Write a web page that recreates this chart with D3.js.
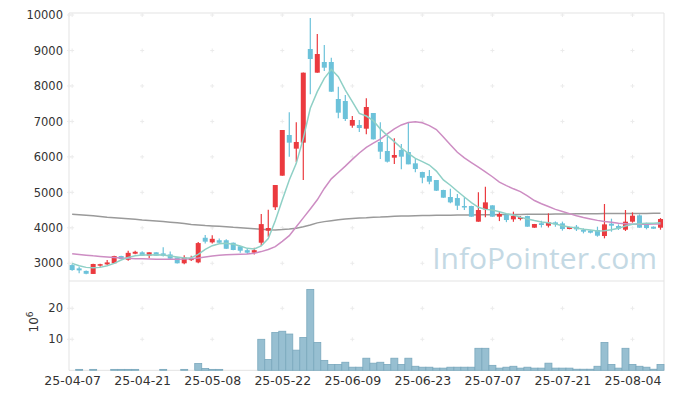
<!DOCTYPE html>
<html>
<head>
<meta charset="utf-8">
<script src="https://cdn.jsdelivr.net/npm/d3@7"></script>
<style>
  body { margin: 0; background: #fff; }
  svg { display: block; font-family: 'DejaVu Sans', sans-serif; }
</style>
</head>
<body>
<svg id="chart" width="673" height="399"></svg>
<script>
/**
 * Data (trading days, KRW, volume in millions).
 */
const dates = [
    '25-04-07', '25-04-08', '25-04-09', '25-04-10', '25-04-11', '25-04-14', '25-04-15', '25-04-16', '25-04-17', '25-04-18',
    '25-04-21', '25-04-22', '25-04-23', '25-04-24', '25-04-25', '25-04-28', '25-04-29', '25-04-30', '25-05-02', '25-05-07',
    '25-05-08', '25-05-09', '25-05-12', '25-05-13', '25-05-14', '25-05-15', '25-05-16', '25-05-19', '25-05-20', '25-05-21',
    '25-05-22', '25-05-23', '25-05-26', '25-05-27', '25-05-28', '25-05-29', '25-05-30', '25-06-02', '25-06-04', '25-06-05',
    '25-06-09', '25-06-10', '25-06-11', '25-06-12', '25-06-13', '25-06-16', '25-06-17', '25-06-18', '25-06-19', '25-06-20',
    '25-06-23', '25-06-24', '25-06-25', '25-06-26', '25-06-27', '25-06-30', '25-07-01', '25-07-02', '25-07-03', '25-07-04',
    '25-07-07', '25-07-08', '25-07-09', '25-07-10', '25-07-11', '25-07-14', '25-07-15', '25-07-16', '25-07-17', '25-07-18',
    '25-07-21', '25-07-22', '25-07-23', '25-07-24', '25-07-25', '25-07-28', '25-07-29', '25-07-30', '25-07-31', '25-08-01',
    '25-08-04', '25-08-05', '25-08-06', '25-08-07', '25-08-08'
];

const open = [
    2950, 2857, 2785, 2700, 2935, 2970, 3000, 3205, 3100, 3270,
    3310, 3215, 3310, 3280, 3250, 3165, 3000, 3090, 3025, 3720,
    3590, 3650, 3650, 3580, 3480, 3370, 3300, 3580, 3920, 4580,
    5470, 6617, 6232, 6401, 9041, 8374, 8675, 8675, 7632, 7575,
    6880, 6899, 6795, 7237, 6420, 6166, 5978, 6194, 6137, 5818,
    5573, 5461, 5348, 5066, 4869, 4840, 4615, 4615, 4173, 4521,
    4634, 4314, 4370, 4239, 4248, 4333, 4004, 4130, 4060, 4154,
    4126, 3966, 4032, 3938, 3920, 3938, 3769, 4117, 4051, 3947,
    4173, 4351, 4117, 4032, 4004
];
const high = [
    2970, 2905, 2800, 2985, 2985, 3090, 3215, 3210, 3355, 3355,
    3340, 3315, 3315, 3450, 3330, 3170, 3230, 3215, 3600, 3800,
    3790, 3700, 3680, 3585, 3485, 3420, 3440, 4389, 4510, 5210,
    6760, 7256, 6974, 8380, 9915, 9464, 9154, 8797, 7979, 7744,
    7150, 7040, 7650, 7240, 6974, 6570, 6523, 6363, 6974, 5940,
    5580, 5630, 5350, 5070, 5100, 4955, 4860, 4620, 5000, 5160,
    4640, 4455, 4375, 4455, 4330, 4340, 4110, 4200, 4408, 4180,
    4175, 4030, 4080, 3985, 3938, 4032, 4671, 4258, 4098, 4502,
    4436, 4380, 4145, 4040, 4276
];
const low = [
    2790, 2720, 2690, 2695, 2905, 2950, 2995, 3115, 3075, 3255,
    3210, 3140, 3210, 3190, 3110, 2995, 2970, 3065, 3000, 3560,
    3560, 3575, 3400, 3370, 3300, 3260, 3250, 3487, 3750, 4500,
    5465, 6006, 5846, 5348, 7763, 8370, 8421, 7830, 7087, 7011,
    6820, 6700, 6636, 6490, 5940, 5840, 5799, 5649, 5790, 5564,
    5254, 5226, 5040, 4845, 4690, 4500, 4500, 4310, 4170, 4295,
    4310, 4190, 4160, 4170, 4210, 4030, 4000, 4010, 4010, 4030,
    3920, 3960, 3910, 3844, 3844, 3750, 3703, 3891, 3938, 3910,
    4145, 4000, 3957, 3970, 3947
];
const close = [
    2810, 2800, 2705, 2980, 2975, 3025, 3205, 3120, 3295, 3325,
    3215, 3310, 3215, 3215, 3130, 3000, 3165, 3150, 3570, 3610,
    3690, 3580, 3410, 3375, 3355, 3300, 3370, 4105, 3995, 5207,
    6758, 6401, 6420, 8374, 8760, 8900, 8515, 7838, 7246, 7068,
    7040, 6814, 7406, 6495, 6147, 5865, 6053, 6006, 5790, 5658,
    5414, 5301, 5047, 4850, 4718, 4624, 4577, 4314, 4502, 4718,
    4314, 4389, 4220, 4333, 4305, 4032, 4107, 4080, 4154, 4098,
    3966, 4023, 3957, 3891, 3863, 3778, 4098, 4060, 3975, 4173,
    4342, 4004, 3994, 3975, 4248
];

const volume = [
    0, 0.3, 0, 0.3, 0, 0, 0.3, 0.3, 0.3, 0.3,
    0, 0, 0, 0.3, 0, 0, 0.3, 0, 2.2, 0.6,
    0.3, 0.3, 0, 0, 0, 0, 0, 10.0, 3.5, 12.2,
    12.6, 11.7, 6.5, 10.6, 26.1, 9.0, 3.2, 1.9, 1.9, 2.6,
    1.0, 1.0, 3.9, 2.3, 2.6, 1.9, 3.9, 1.9, 3.9, 1.3,
    1.0, 1.0, 0.7, 0.7, 1.0, 1.0, 1.0, 1.0, 7.1, 7.1,
    1.6, 0.7, 1.0, 1.3, 0.7, 1.0, 0.7, 0.7, 2.3, 0.7,
    0.7, 0.7, 0.35, 0.35, 0.35, 1.3, 9.0, 1.9, 0.7, 7.1,
    1.9, 1.3, 1.0, 0.35, 1.9
];

// Moving averages as drawn (short, medium, long)
const maShort = [
    2998, 2933, 2885, 2876, 2885, 2933, 2998, 3092, 3167, 3214,
    3233, 3233, 3243, 3233, 3205, 3177, 3149, 3158, 3252, 3393,
    3496, 3553, 3562, 3534, 3487, 3421, 3402, 3490, 3700, 4200,
    4784, 5348, 5818, 6523, 7369, 7838, 8215, 8468, 8261, 7885,
    7557, 7228, 7152, 7021, 6790, 6600, 6430, 6250, 6100, 5960,
    5865, 5771, 5600, 5350, 5200, 5030, 4870, 4710, 4580, 4520,
    4500, 4455, 4400, 4360, 4300, 4250, 4205, 4165, 4140, 4110,
    4060, 4023, 3994, 3957, 3938, 3910, 3919, 3947, 3985, 4051,
    4098, 4117, 4126, 4126, 4145
];
const maMid = [
    3270, 3250, 3230, 3210, 3195, 3180, 3165, 3150, 3140, 3130,
    3125, 3120, 3115, 3115, 3115, 3115, 3120, 3130, 3150, 3180,
    3205, 3225, 3240, 3248, 3255, 3265, 3285, 3330, 3390, 3470,
    3620, 3780, 4030, 4280, 4530, 4790, 5110, 5380, 5560, 5740,
    5930, 6110, 6270, 6390, 6500, 6650, 6790, 6900, 6970, 6990,
    6960, 6880, 6770, 6560, 6340, 6130, 5970, 5840, 5710, 5580,
    5440, 5290, 5190, 5100, 5020, 4900, 4770, 4680, 4600, 4520,
    4460, 4400, 4340, 4290, 4250, 4210, 4180, 4160, 4130, 4115,
    4100, 4100, 4100, 4105, 4110
];
const maLong = [
    4385, 4370, 4355, 4340, 4320, 4300, 4285, 4270, 4255, 4240,
    4220, 4205, 4190, 4175, 4160, 4140, 4120, 4095, 4080, 4065,
    4055, 4045, 4030, 4015, 4005, 3990, 3975, 3960, 3945, 3940,
    3950, 3965, 3990, 4030, 4080, 4140, 4175, 4200, 4225, 4250,
    4265, 4275, 4285, 4300, 4305, 4315, 4325, 4330, 4335, 4340,
    4345, 4350, 4352, 4355, 4358, 4360, 4362, 4365, 4368, 4370,
    4372, 4374, 4375, 4377, 4378, 4380, 4382, 4384, 4386, 4388,
    4390, 4392, 4394, 4396, 4398, 4400, 4401, 4402, 4403, 4404,
    4405, 4406, 4407, 4408, 4410
];

const priceTicks = [3000, 4000, 5000, 6000, 7000, 8000, 9000, 10000];
const volumeTicks = [10, 20];
const dateTicks = [0, 10, 20, 30, 40, 50, 60, 70, 80];

/**
 * Visual configs.
 */
const colors = {
    up: '#eb3a3f', down: '#6cc2da',
    maShort: '#8fd0c6', maMid: '#cd8dc3', maLong: '#9a9a9a',
    volFill: '#97bfd1', volStroke: '#7aa8bd',
    frame: '#e3e3e3', grid: '#ebebeb', text: '#333'
};
const left = 69, right = 664,
    priceTop = 13, priceBottom = 281,
    volTop = 281, volBottom = 370.3;

const svg = d3.select('#chart');
const n = dates.length;
const idx = d3.range(n);

/**
 * Scales.
 */
const x = d3.scaleLinear().domain([-0.45, n - 0.5]).range([left, right]);
const y = d3.scaleLinear().domain([3000, 10000]).range([263.3, 15]);
const yv = d3.scaleLinear().domain([0, 10]).range([volBottom, 339.3]);
const step = x(1) - x(0);

svg.append('clipPath').attr('id', 'clip-price')
    .append('rect').attr('x', left).attr('y', priceTop).attr('width', right - left).attr('height', priceBottom - priceTop);

/**
 * Frame and grid markers.
 */
const frame = svg.append('g').attr('stroke', colors.frame).attr('fill', 'none');
frame.append('path').attr('d', `M${left},${volBottom}V${priceTop}H${right}V${volBottom}`);
frame.append('line').attr('x1', left).attr('x2', right).attr('y1', priceBottom).attr('y2', priceBottom);
frame.append('line').attr('x1', left).attr('x2', right).attr('y1', volBottom).attr('y2', volBottom);

function plus(g, px, py) {
    g.append('path').attr('d', `M${px - 2},${py}h4M${px},${py - 2}v4`);
}
const grid = svg.append('g').attr('stroke', colors.grid).attr('fill', 'none');
dateTicks.forEach(t => {
    priceTicks.forEach(p => plus(grid, x(t), y(p)));
    volumeTicks.forEach(v => plus(grid, x(t), yv(v)));
});
priceTicks.forEach(p => plus(grid, left, y(p)));
volumeTicks.forEach(v => plus(grid, left, yv(v)));

/**
 * Watermark.
 */
svg.append('text')
    .attr('x', 657).attr('y', 269)
    .attr('text-anchor', 'end')
    .style('font-family', "'Open Sans', sans-serif")
    .style('font-size', '30px')
    .attr('fill', '#c4d9e4')
    .text('InfoPointer.com');

/**
 * Price panel.
 */
const pricePanel = svg.append('g').attr('clip-path', 'url(#clip-price)');

const line = arr => d3.line().x(i => x(i)).y(i => y(arr[i]))(idx);
pricePanel.append('path').attr('d', line(maLong))
    .attr('fill', 'none').attr('stroke', colors.maLong).attr('stroke-width', 1.5);

const candles = pricePanel.append('g').selectAll('g').data(idx).join('g')
    .attr('fill', i => close[i] >= open[i] ? colors.up : colors.down)
    .attr('stroke', i => close[i] >= open[i] ? colors.up : colors.down);
candles.append('line')
    .attr('x1', i => x(i)).attr('x2', i => x(i))
    .attr('y1', i => y(high[i])).attr('y2', i => y(low[i]))
    .attr('stroke-width', 1.2);
candles.append('rect')
    .attr('x', i => x(i) - 2.5).attr('width', 5)
    .attr('y', i => y(Math.max(open[i], close[i])))
    .attr('height', i => Math.max(1.5, Math.abs(y(open[i]) - y(close[i]))))
    .attr('stroke', 'none');

pricePanel.append('path').attr('d', line(maMid))
    .attr('fill', 'none').attr('stroke', colors.maMid).attr('stroke-width', 1.5);
pricePanel.append('path').attr('d', line(maShort))
    .attr('fill', 'none').attr('stroke', colors.maShort).attr('stroke-width', 1.5);

/**
 * Volume panel.
 */
svg.append('g').selectAll('rect').data(idx.filter(i => volume[i] > 0)).join('rect')
    .attr('x', i => x(i) - step / 2).attr('width', step)
    .attr('y', i => yv(volume[i]))
    .attr('height', i => volBottom - yv(volume[i]))
    .attr('fill', colors.volFill).attr('stroke', colors.volStroke).attr('stroke-width', 0.8);

/**
 * Axes.
 */
const priceAxis = svg.append('g').attr('class', 'axis')
    .attr('transform', `translate(${left},0)`)
    .call(d3.axisLeft(y).tickValues(priceTicks).tickSize(0).tickPadding(6).tickFormat(d3.format('d')));
const volAxis = svg.append('g').attr('class', 'axis')
    .attr('transform', `translate(${left},0)`)
    .call(d3.axisLeft(yv).tickValues(volumeTicks).tickSize(0).tickPadding(6));
const dateAxis = svg.append('g').attr('class', 'axis')
    .attr('transform', `translate(0,${volBottom})`)
    .call(d3.axisBottom(x).tickValues(dateTicks).tickSize(0).tickPadding(6).tickFormat(i => dates[i]));

[priceAxis, volAxis, dateAxis].forEach(g => {
    g.select('.domain').remove();
    g.selectAll('text').attr('fill', colors.text).style('font-family', "'DejaVu Sans', sans-serif");
});
priceAxis.selectAll('text').style('font-size', '11.5px');
volAxis.selectAll('text').style('font-size', '11.5px');
dateAxis.selectAll('text').style('font-size', '12.5px');

// Volume unit label
const unit = svg.append('text')
    .attr('transform', 'translate(38,322) rotate(-90)')
    .attr('text-anchor', 'middle')
    .attr('fill', colors.text)
    .style('font-size', '12px');
unit.append('tspan').text('10');
unit.append('tspan').attr('dy', -5).style('font-size', '9px').text('6');
</script>
</body>
</html>
